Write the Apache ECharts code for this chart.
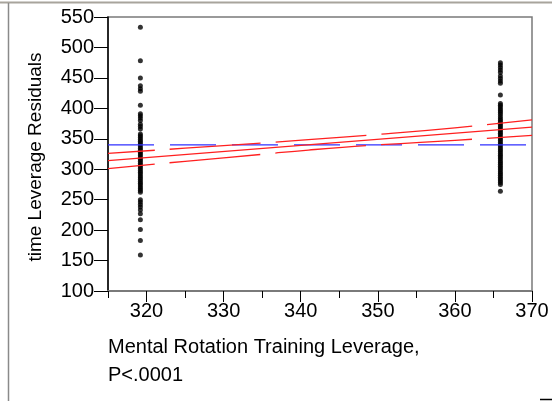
<!DOCTYPE html>
<html>
<head>
<meta charset="utf-8">
<script src="https://cdn.jsdelivr.net/npm/echarts@6/dist/echarts.min.js"></script>
<style>
html,body{margin:0;padding:0;background:#fff;}
#chart{width:552px;height:401px;}
</style>
</head>
<body>
<div id="chart"></div>
<script>
// ---- data ----
var leftX = 319.2;
var rightX = 365.9;
var leftValues = [533, 478, 450, 437, 432, 428, 405, 391, 388, 384, 380, 374, 370, 366,
  358, 355, 352, 349, 346, 343, 340, 337, 334, 331, 328, 325, 322, 319, 316, 313, 310,
  307, 304, 301, 298, 295, 292, 289, 286, 283, 280, 277, 274, 271, 268, 265, 262,
  250, 246, 242, 238, 233, 227, 217, 201, 183, 159];
var rightValues = [475, 471, 467, 463, 459, 453, 449, 445, 441, 422,
  408, 405, 402, 399, 396, 393, 390, 386, 383, 380, 377, 374, 371, 368, 365, 362, 359,
  356, 353, 350, 347, 344, 341, 338, 335, 332, 329, 326, 323, 320, 317, 314, 311, 308,
  305, 302, 299, 296, 293, 290, 287, 284, 281, 278, 275, 264];
var fitX = [315, 370];
var fitY = [314, 369];
var confX = [315, 325, 335, 341, 350, 360, 370];
var upperY = [326, 334.5, 343, 348.5, 357, 368, 381];
var lowerY = [301, 313, 324.5, 331.5, 340, 347.5, 355.5];
var meanY = 340;
var xMajorTicks = [320, 330, 340, 350, 360, 370];

function pairs(xs, ys) { return xs.map(function (x, i) { return [x, ys[i]]; }); }

var chart = echarts.init(document.getElementById('chart'), null, {renderer: 'canvas'});
var font = 'Liberation Sans, Arial, sans-serif';

chart.setOption({
  animation: false,
  backgroundColor: '#ffffff',
  grid: {left: 108, top: 17, width: 424, height: 274, show: true,
         borderColor: '#7a7a7a', borderWidth: 1.5, backgroundColor: 'transparent'},
  xAxis: [{
    type: 'value', min: 315, max: 370, interval: 5,
    axisLine: {show: true, onZero: false, lineStyle: {color: '#7a7a7a', width: 2}},
    axisTick: {show: true, length: 7, lineStyle: {color: '#000', width: 1}},
    axisLabel: {show: false},
    splitLine: {show: false}
  }, {
    type: 'value', min: 315, max: 370, position: 'bottom',
    axisLine: {show: false, onZero: false},
    axisTick: {show: true, length: 11, customValues: xMajorTicks, lineStyle: {color: '#000', width: 1}},
    axisLabel: {show: true, customValues: xMajorTicks, fontFamily: font, fontSize: 20, color: '#000', margin: 10},
    splitLine: {show: false}
  }],
  yAxis: {
    type: 'value', min: 100, max: 550, interval: 50,
    axisLine: {show: true, onZero: false, lineStyle: {color: '#000', width: 1.5}},
    axisTick: {show: true, length: 14, lineStyle: {color: '#000', width: 1}},
    axisLabel: {fontFamily: font, fontSize: 20, color: '#000', margin: 14},
    splitLine: {show: false}
  },
  series: [
    {type: 'scatter', symbol: 'circle', symbolSize: 5, itemStyle: {color: '#000'},
     data: leftValues.map(function (v) { return [leftX, v]; }), z: 2},
    {type: 'scatter', symbol: 'circle', symbolSize: 5, itemStyle: {color: '#000'},
     data: rightValues.map(function (v) { return [rightX, v]; }), z: 2},
    {type: 'line', data: [[315, meanY], [370, meanY]], showSymbol: false, symbol: 'none',
     lineStyle: {color: '#3030ff', width: 1.2, type: [46, 16]}, z: 3},
    {type: 'line', data: pairs(fitX, fitY), showSymbol: false, symbol: 'none',
     lineStyle: {color: '#ff2020', width: 1.3}, z: 4},
    {type: 'line', data: pairs(confX, upperY), smooth: true, showSymbol: false, symbol: 'none',
     lineStyle: {color: '#ff2020', width: 1.3, type: [91, 15], dashOffset: 44}, z: 4},
    {type: 'line', data: pairs(confX, lowerY), smooth: true, showSymbol: false, symbol: 'none',
     lineStyle: {color: '#ff2020', width: 1.3, type: [91, 15], dashOffset: 44}, z: 4}
  ],
  graphic: [
    {type: 'line', shape: {x1: 0, y1: 2.5, x2: 552, y2: 2.5}, style: {stroke: '#a8a49c', lineWidth: 2}},
    {type: 'line', shape: {x1: 8.5, y1: 3, x2: 8.5, y2: 401}, style: {stroke: '#8a8a8a', lineWidth: 1.5}},
    {type: 'line', shape: {x1: 540, y1: 399.5, x2: 552, y2: 399.5}, style: {stroke: '#000', lineWidth: 1.5}},
    {type: 'text', x: 36, y: 157, rotation: Math.PI / 2,
     style: {text: 'time Leverage Residuals', fontFamily: font, fontSize: 19, fill: '#000',
             align: 'center', verticalAlign: 'middle'}},
    {type: 'text', x: 108, y: 333,
     style: {text: 'Mental Rotation Training Leverage,\nP<.0001', fontFamily: font, fontSize: 20,
             lineHeight: 28, fill: '#000', align: 'left', verticalAlign: 'top'}}
  ]
});
</script>
</body>
</html>
